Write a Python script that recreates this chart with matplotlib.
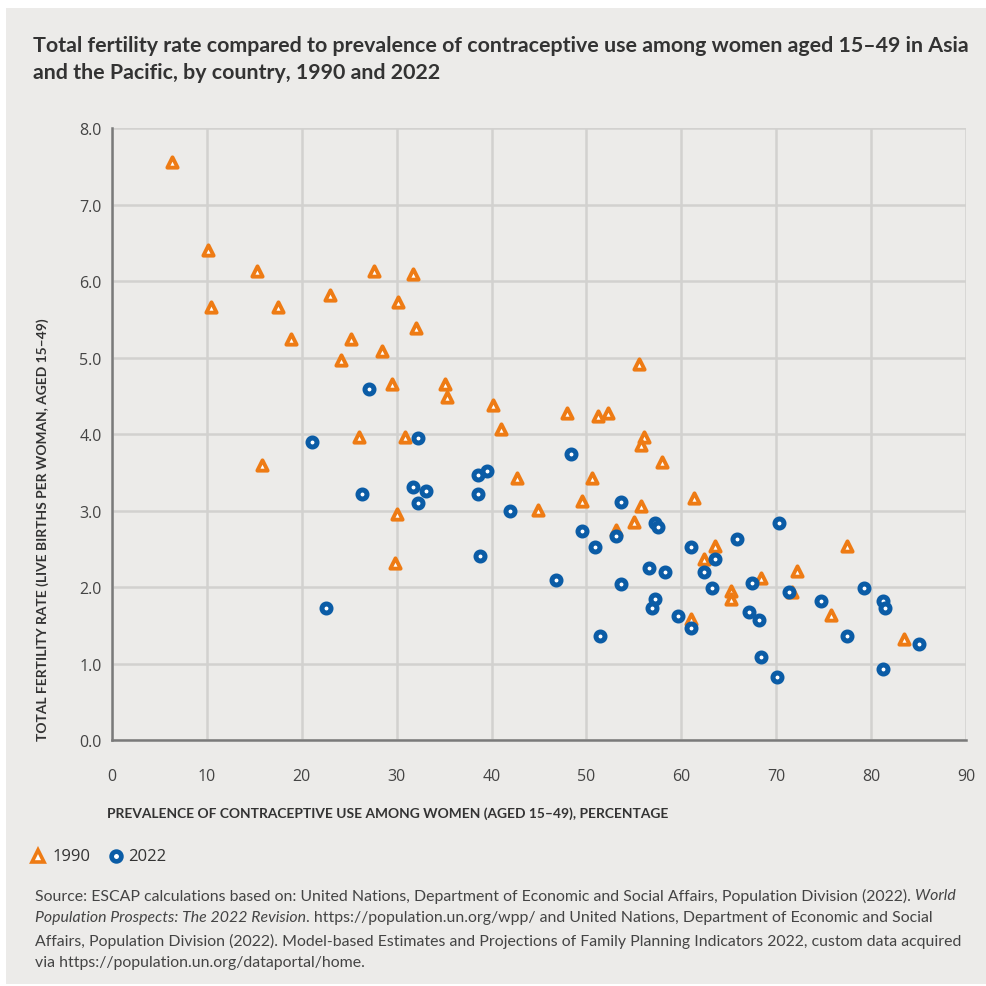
import matplotlib
matplotlib.use('Agg')
import matplotlib.pyplot as plt
from matplotlib.patches import Rectangle

# 1990 - contraceptive prevalence (%) and total fertility rate
x1990 = [6.3, 10.1, 10.4, 15.3, 17.5, 18.9, 23.0, 25.2, 24.1, 27.6,
         31.7, 30.1, 32.0, 28.5, 29.5, 35.1, 35.3, 26.0, 30.9, 15.8,
         55.5, 40.2, 41.0, 47.9, 51.2, 52.3, 56.1, 55.8, 58.0, 42.7,
         50.6, 49.5, 55.8, 61.3, 44.9, 30.0, 55.0, 53.1, 29.8, 61.0,
         63.5, 62.4, 68.4, 65.2, 65.2, 72.2, 71.7, 75.8, 77.5, 83.5]
y1990 = [7.56, 6.40, 5.66, 6.13, 5.66, 5.24, 5.82, 5.24, 4.97, 6.13,
         6.09, 5.72, 5.39, 5.08, 4.65, 4.65, 4.49, 3.96, 3.96, 3.59,
         4.92, 4.38, 4.07, 4.28, 4.23, 4.28, 3.96, 3.86, 3.64, 3.43,
         3.43, 3.12, 3.06, 3.17, 3.01, 2.96, 2.85, 2.75, 2.31, 1.58,
         2.54, 2.37, 2.12, 1.95, 1.84, 2.21, 1.94, 1.64, 2.54, 1.32]

# 2022
x2022 = [27.1, 21.1, 32.3, 26.3, 31.7, 33.1, 32.3, 38.6, 39.5, 38.6,
         41.9, 38.8, 22.5, 48.4, 53.6, 57.2, 57.5, 49.5, 53.1, 50.9,
         61.0, 56.6, 58.3, 46.8, 53.6, 57.2, 56.9, 59.7, 61.0, 51.4,
         70.3, 65.9, 63.5, 62.4, 63.2, 67.5, 71.4, 67.1, 68.2, 68.4,
         70.1, 74.7, 77.5, 79.3, 81.3, 81.5, 81.3, 85.1]
y2022 = [4.59, 3.90, 3.95, 3.21, 3.31, 3.26, 3.10, 3.47, 3.52, 3.21,
         3.00, 2.41, 1.73, 3.74, 3.11, 2.84, 2.78, 2.73, 2.67, 2.52,
         2.52, 2.25, 2.20, 2.09, 2.04, 1.84, 1.72, 1.62, 1.46, 1.36,
         2.84, 2.63, 2.37, 2.20, 1.99, 2.05, 1.94, 1.68, 1.57, 1.09,
         0.83, 1.82, 1.36, 1.99, 1.82, 1.72, 0.93, 1.25]

xticks = [0, 10, 20, 30, 40, 50, 60, 70, 80, 90]
yticks = [0, 1, 2, 3, 4, 5, 6, 7, 8]

orange = '#EE7B14'
blue = '#0B5CA6'
bg = '#ECEBE9'
narrow = ['Lato', 'DejaVu Sans']
W, H = 986, 987

fig = plt.figure(figsize=(9.86, 9.87), dpi=100)
fig.patch.set_facecolor('white')
fig.patches.append(Rectangle((6 / W, 2 / H), 1 - 6 / W, 1 - 11 / H,
                             transform=fig.transFigure, facecolor=bg,
                             edgecolor='none', zorder=-10))
renderer = fig.canvas.get_renderer()


def fit(t, target_px, vertical=False):
    # shrink/grow a text so it spans target_px pixels
    for _ in range(2):
        bb = t.get_window_extent(renderer=renderer)
        size = bb.height if vertical else bb.width
        t.set_fontsize(t.get_fontsize() * target_px / size)


ax = fig.add_axes([0.1136, 0.2492, 0.9797 - 0.1136, 0.8693 - 0.2492])
ax.set_facecolor(bg)

ax.scatter(x1990, y1990, marker='^', s=55, facecolor='white',
           edgecolor=orange, linewidths=2.8, zorder=3)
ax.scatter(x2022, y2022, marker='o', s=42, facecolor='white',
           edgecolor=blue, linewidths=3.6, zorder=3)

ax.set_xlim(0, 90)
ax.set_ylim(0, 8)
ax.set_xticks(xticks)
ax.set_yticks(yticks)
ax.set_xticklabels([str(t) for t in xticks])
ax.set_yticklabels(['%.1f' % t for t in yticks])
ax.grid(True, color='#D2D1CF', linewidth=1.8)
ax.set_axisbelow(True)
for s in ['top', 'right']:
    ax.spines[s].set_visible(False)
for s in ['left', 'bottom']:
    ax.spines[s].set_color('#7A7A7A')
    ax.spines[s].set_linewidth(1.8)
ax.tick_params(length=0, labelsize=11.5, labelcolor='#444444')
ax.tick_params(axis='x', pad=20)
ax.tick_params(axis='y', pad=7.5)
for lab in ax.get_xticklabels() + ax.get_yticklabels():
    lab.set_family(['Open Sans', 'DejaVu Sans'])

ax.set_xlabel('PREVALENCE OF CONTRACEPTIVE USE AMONG WOMEN (AGED 15\u201349), PERCENTAGE',
              family=narrow, fontweight='bold', fontsize=10, color='#333333',
              ha='left', va='center')
ax.xaxis.set_label_coords(-0.006, -0.118)
fit(ax.xaxis.label, 560)
ax.set_ylabel('TOTAL FERTILITY RATE (LIVE BIRTHS PER WOMAN, AGED 15\u201349)',
              family=narrow, fontweight='bold', fontsize=10, color='#333333',
              va='center')
ax.yaxis.set_label_coords(-0.081, 0.346)
fit(ax.yaxis.label, 422, vertical=True)

# title
t1 = fig.text(33 / W, 1 - 46 / H,
              'Total fertility rate compared to prevalence of contraceptive use among women aged 15\u201349 in Asia',
              family=narrow, fontweight='bold', fontsize=14, color='#333333',
              va='center', ha='left')
fit(t1, 932)
fig.text(33 / W, 1 - 73 / H, 'and the Pacific, by country, 1990 and 2022',
         family=narrow, fontweight='bold', fontsize=t1.get_fontsize(),
         color='#333333', va='center', ha='left')

# legend
ly = 1 - 857 / H
fig.lines.append(plt.Line2D([38 / W], [ly], transform=fig.transFigure,
                            marker='^', markersize=8, markerfacecolor='white',
                            markeredgecolor=orange, markeredgewidth=2.6, linestyle='None'))
fig.text(53 / W, ly, '1990', family=['Open Sans', 'DejaVu Sans'], fontsize=12,
         color='#333333', va='center')
fig.lines.append(plt.Line2D([116 / W], [ly], transform=fig.transFigure,
                            marker='o', markersize=7, markerfacecolor='white',
                            markeredgecolor=blue, markeredgewidth=3.4, linestyle='None'))
fig.text(128 / W, ly, '2022', family=['Open Sans', 'DejaVu Sans'], fontsize=12,
         color='#333333', va='center')

# source, with italic title of the publication
x0 = 35 / W
lines_y = [1 - 896 / H, 1 - 918 / H, 1 - 941 / H, 1 - 963 / H]
src1 = ('Source: ESCAP calculations based on: United Nations, Department of Economic and '
        'Social Affairs, Population Division (2022). ')
probe = fig.text(x0, lines_y[0], src1 + 'World', family=narrow, fontsize=11)
fit(probe, 925)
src_fs = probe.get_fontsize()
probe.remove()
src_kw = dict(family=narrow, fontsize=src_fs, color='#444444', va='center')


def run(pieces, y):
    x = x0
    for txt, style in pieces:
        t = fig.text(x, y, txt, style=style, **src_kw)
        bb = t.get_window_extent(renderer=renderer)
        x = x + bb.width / fig.bbox.width


run([(src1, 'normal'), ('World', 'italic')], lines_y[0])
run([('Population Prospects: The 2022 Revision', 'italic'),
     ('. https://population.un.org/wpp/ and United Nations, Department of Economic and Social', 'normal')], lines_y[1])
run([('Affairs, Population Division (2022). Model-based Estimates and Projections of Family Planning Indicators 2022, custom data acquired', 'normal')], lines_y[2])
run([('via https://population.un.org/dataportal/home.', 'normal')], lines_y[3])

fig.savefig('out.png', dpi=100, facecolor=fig.get_facecolor())
